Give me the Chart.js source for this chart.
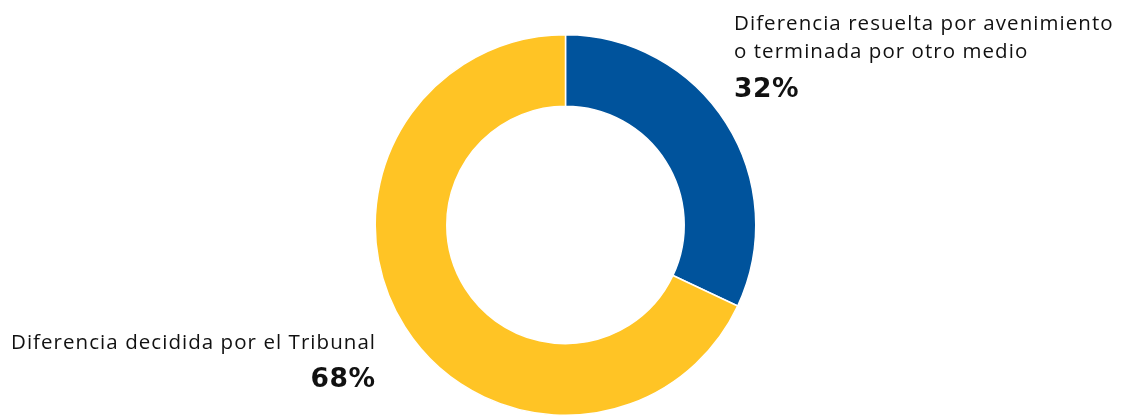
<!DOCTYPE html>
<html>
<head>
<meta charset="utf-8">
<script src="https://cdn.jsdelivr.net/npm/chart.js@4"></script>
<style>
  html, body { margin: 0; padding: 0; background: #ffffff; }
  #wrap { width: 1125px; height: 416px; position: relative; }
</style>
</head>
<body>
<div id="wrap"><canvas id="c"></canvas></div>
<script>
const categories = [
  ["Diferencia resuelta por avenimiento", "o terminada por otro medio"],
  ["Diferencia decidida por el Tribunal"]
];
const shares = [32, 68];
const colors = ["#00539C", "#FFC425"];

// Draws each slice's caption and percentage beside the ring
const sliceLabels = {
  id: "sliceLabels",
  afterDraw(chart) {
    const ctx = chart.ctx;
    const arc = chart.getDatasetMeta(0).data[0];
    const cx = arc.x, cy = arc.y;
    const captionFont = "20.5px 'Open Sans', sans-serif";
    const valueFont = "bold 26.5px 'DejaVu Sans', sans-serif";
    const captionSpacing = 1.05, valueSpacing = 0.5;
    ctx.save();
    ctx.fillStyle = "#111111";
    ctx.textBaseline = "alphabetic";

    const caption = (text, x, y) => {
      ctx.font = captionFont;
      ctx.letterSpacing = captionSpacing + "px";
      ctx.fillText(text, x, y);
    };
    const value = (text, x, y) => {
      ctx.font = valueFont;
      ctx.letterSpacing = valueSpacing + "px";
      ctx.fillText(text, x, y);
    };

    // first slice: upper right, left aligned
    ctx.textAlign = "left";
    let x = cx + 168.5, y = cy - 195.5;
    categories[0].forEach((line, i) => caption(line, x, y + i * 28));
    value(shares[0] + "%", x, y + 67);

    // second slice: lower left, right aligned
    ctx.textAlign = "right";
    x = cx - 190.5; y = cy + 123.5;
    categories[1].forEach((line, i) => caption(line, x + captionSpacing, y + i * 28));
    value(shares[1] + "%", x + valueSpacing, y + 38);
    ctx.restore();
  }
};

new Chart(document.getElementById("c"), {
  type: "doughnut",
  data: {
    labels: categories.map(l => l.join(" ")),
    datasets: [{
      data: shares,
      backgroundColor: colors,
      borderColor: "#ffffff",
      borderWidth: 1.5,
      hoverOffset: 0
    }]
  },
  options: {
    responsive: true,
    maintainAspectRatio: false,
    animation: false,
    cutout: "62.4%",
    layout: { padding: { top: 34, left: 6, right: 0, bottom: 0 } },
    plugins: {
      legend: { display: false },
      tooltip: { enabled: false }
    }
  },
  plugins: [sliceLabels]
});
</script>
</body>
</html>
